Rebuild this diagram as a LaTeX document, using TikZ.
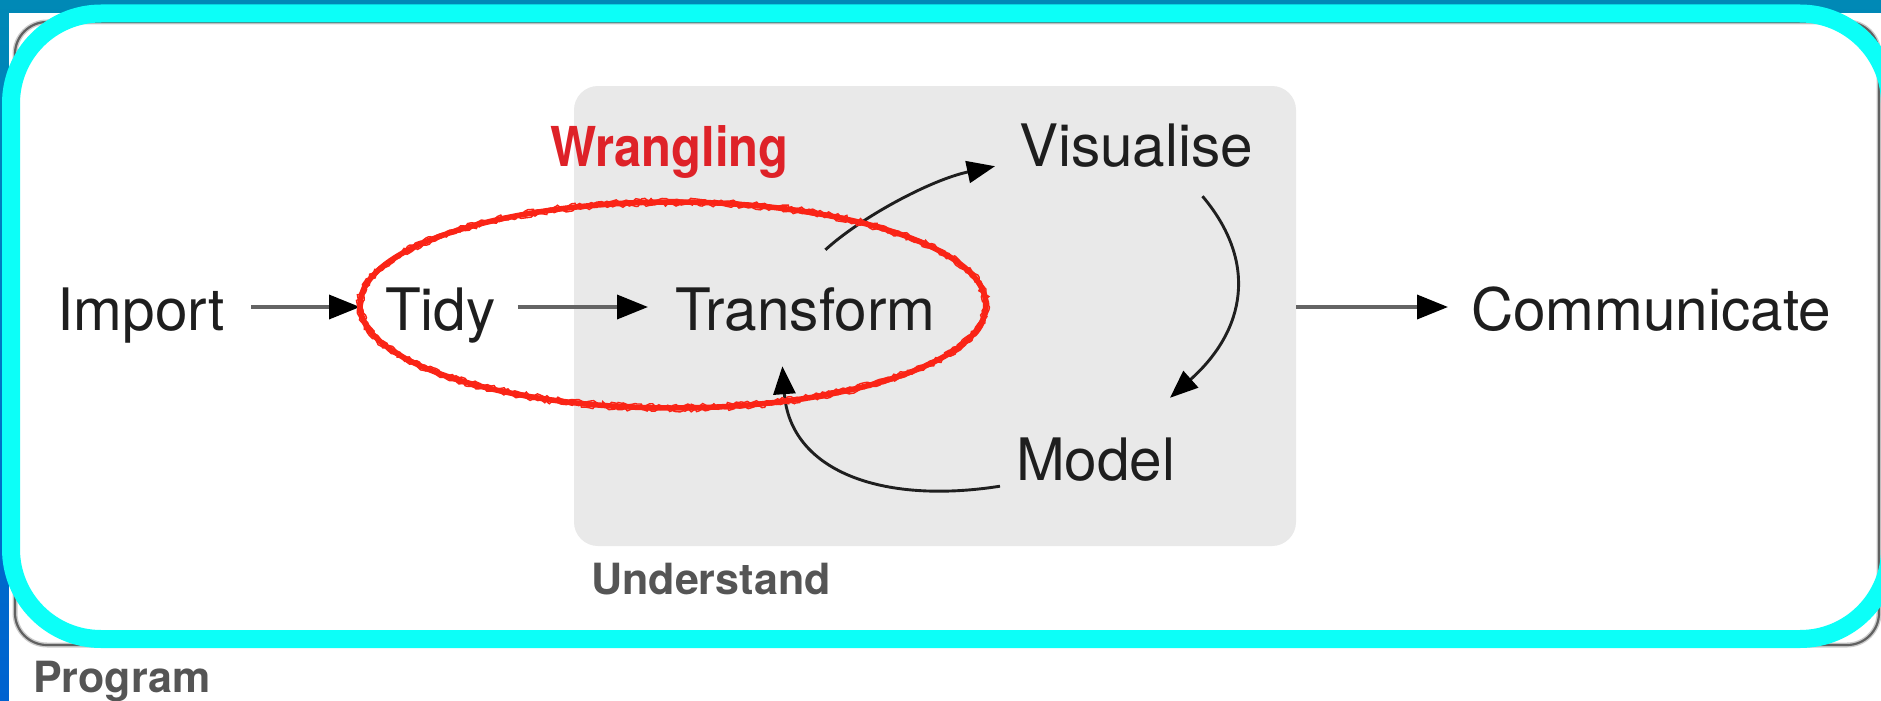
\documentclass[tikz,border=0pt]{standalone}
\usepackage{fontspec}
\setmainfont{TeX Gyre Heros}
\newfontfamily\condensedsans[FakeStretch=0.89]{TeX Gyre Heros}
\usetikzlibrary{arrows.meta,decorations.pathmorphing,calc}

\definecolor{frameblue}{RGB}{0,137,182}
\definecolor{frameblueb}{RGB}{0,98,208}
\definecolor{hilite}{RGB}{12,255,248}
\definecolor{boxgray}{RGB}{233,233,233}
\definecolor{labelgray}{RGB}{85,85,85}
\definecolor{crayon}{RGB}{250,36,22}
\definecolor{titlered}{RGB}{222,34,40}
\definecolor{linegray}{RGB}{100,100,100}
\definecolor{inkgray}{RGB}{30,30,30}

\begin{document}
\begin{tikzpicture}[x=1pt,y=-1pt,
  stage/.style={inner sep=0pt, anchor=west, text height=46pt, text depth=0pt,
    text=inkgray, font=\fontsize{58.5}{61}\selectfont},
  flow/.style={draw=linegray, line width=3.6pt,
    -{Triangle[length=31pt,width=24pt,color=black]}},
  loop/.style={draw=black!88, line width=2.9pt,
    -{Triangle[length=28pt,width=22pt,color=black]}},
  tag/.style={inner sep=0pt, anchor=base west, text=labelgray,
    font=\fontsize{43}{45}\selectfont\bfseries},
  crayonline/.style={draw=crayon, line width=1.4pt, decorate,
    decoration={random steps, segment length=3pt, amplitude=1.6pt}},
]
\useasboundingbox (0,0) rectangle (1881,701);
\clip (0,0) rectangle (1881,701);

% window background
\shade[top color=frameblue, bottom color=frameblueb] (0,0) rectangle (1881,701);
\fill[white] (9,13) rectangle (1881,701);

% outer "Program" frame
\draw[gray!40, line width=5pt, rounded corners=32pt] (15,22) rectangle (1879,645);
\draw[black!62, line width=2.2pt, rounded corners=32pt] (15,22) rectangle (1879,645);

% "Understand" panel
\node[fill=boxgray, rounded corners=24pt, minimum width=722pt,
  minimum height=460pt, inner sep=0pt] (ubox) at (935,316) {};

% stages
\node[stage] (import)      at (57,307)   {Import};
\node[stage] (tidy)        at (385,307)  {Tidy};
\node[stage] (transform)   at (675,307)  {Transform};
\node[stage] (visualise)   at (1019,143) {Visualise};
\node[stage] (model)       at (1016,457) {Model};
\node[stage] (communicate) at (1471,307) {Communicate};

% straight connectors
\draw[flow, shorten <=26pt, shorten >=25pt] (import) -- (tidy);
\draw[flow, shorten <=22pt, shorten >=27pt] (tidy) -- (transform);
\draw[flow, shorten >=23pt] (ubox.east |- communicate.west) -- (communicate.west);

% the explore loop
\draw[loop] ([shift={(20,-34)}]transform.north)
  .. controls (860,218) and (930,180) .. ([shift={(-24,0)}]visualise.south west);
\draw[loop] ([shift={(-51,30)}]visualise.south east)
  .. controls (1258,262) and (1246,330) .. ([shift={(154,-36)}]model.north west);
\draw[loop] ([shift={(-16,6)}]model.south west)
  .. controls (880,505) and (790,470) .. ([shift={(-23,36)}]transform.south);

% hand-drawn ring around tidy + transform
\draw[crayon, line width=5.5pt] (673,305) ellipse [x radius=313, y radius=103];
\draw[crayonline] (673,305) ellipse [x radius=315.5, y radius=105.5];
\draw[crayonline] (673,305) ellipse [x radius=310.5, y radius=100.5];

\node[anchor=base west, inner sep=0pt, text=titlered,
  font=\fontsize{55}{57}\condensedsans\bfseries] (wrangling) at (550,166) {Wrangling};

% highlight frame
\draw[hilite, line width=18pt, rounded corners=90pt] (11,13.5) rectangle (1890,639);

% captions
\node[tag] (understand) at (591,594) {Understand};
\node[tag] (program)    at (33,692)  {Program};
\end{tikzpicture}
\end{document}
